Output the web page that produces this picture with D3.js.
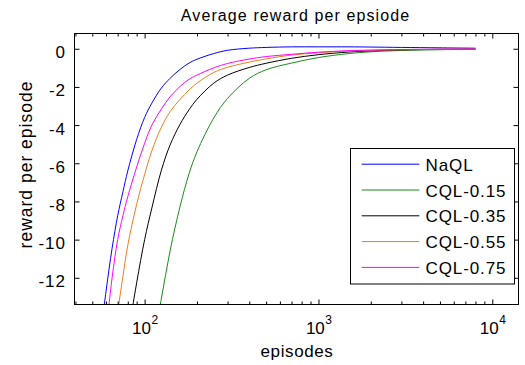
<!DOCTYPE html>
<html>
<head>
<meta charset="utf-8">
<script src="https://cdn.jsdelivr.net/npm/d3@7"></script>
<style>
  body { margin: 0; background: #fff; }
  text { font-family: "Liberation Sans", Arial, Helvetica, sans-serif; fill: #000; }
</style>
</head>
<body>
<svg id="chart" width="525" height="365"></svg>
<script>
// Episodes at which the averaged reward was sampled
const episodes = [55, 60, 65, 70, 75, 80, 90, 100, 110, 125, 140, 160, 180, 200,
                  250, 300, 400, 500, 700, 1000, 1500, 2000, 3000, 5000, 8000];

// Average reward per episode for each learner (null = not on the plotted range)
const naql   = [-15.4, -12.7, -10.45, -8.75, -7.5, -6.4, -4.75, -3.6, -2.85, -2.05, -1.55, -1.08, -0.75, -0.55,
                -0.25, -0.08, 0.03, 0.07, 0.1, 0.1, 0.1, 0.09, 0.07, 0.05, 0.03];
const cql015 = [null, null, null, null, null, null, null, null, -15.8, -13.06, -10.6, -8.25, -6.55, -5.4,
                -3.62, -2.6, -1.55, -1.1, -0.75, -0.46, -0.25, -0.16, -0.09, -0.05, -0.02];
const cql035 = [null, null, null, null, null, -15.07, -12.26, -10.0, -8.35, -6.35, -5.05, -3.95, -3.2, -2.65,
                -1.8, -1.38, -0.98, -0.76, -0.5, -0.31, -0.17, -0.11, -0.06, -0.03, -0.02];
const cql055 = [null, null, -15.8, -13.78, -11.93, -10.3, -8.15, -6.58, -5.35, -4.1, -3.3, -2.65, -2.16, -1.8,
                -1.24, -0.97, -0.7, -0.53, -0.33, -0.21, -0.12, -0.08, -0.05, -0.03, -0.02];
const cql075 = [null, -14.85, -12.0, -10.0, -8.75, -7.75, -6.2, -4.95, -4.0, -3.15, -2.52, -1.97, -1.6, -1.38,
                -1.0, -0.77, -0.54, -0.41, -0.29, -0.18, -0.1, -0.07, -0.04, -0.02, -0.01];

const seriesNames  = ["NaQL", "CQL-0.15", "CQL-0.35", "CQL-0.55", "CQL-0.75"];
const seriesValues = [naql, cql015, cql035, cql055, cql075];
const seriesColors = ["#0000ff", "#1a8c1a", "#000000", "#ee7d1b", "#ff00ff"];

const xMajorTicks = [100, 1000, 10000];
const yTicks = [-12, -10, -8, -6, -4, -2, 0];

const titleText = "Average reward per epsiode";
const xLabel = "episodes";
const yLabel = "reward per episode";

// ---- layout ----
const plotLeft = 74.5, plotRight = 518.5, plotTop = 33.5, plotBottom = 304.5;
const svg = d3.select("#chart");

const x = d3.scaleLog().domain([39.5, 14150]).range([plotLeft, plotRight]);
const y = d3.scaleLinear().domain([-13.4, 0.8]).range([plotBottom, plotTop]);

svg.append("rect").attr("width", 525).attr("height", 365).attr("fill", "#fff");

// clip region for the curves
svg.append("clipPath").attr("id", "plotClip")
  .append("rect").attr("x", plotLeft).attr("y", plotTop)
  .attr("width", plotRight - plotLeft).attr("height", plotBottom - plotTop);

// ---- curves ----
const line = d3.line()
  .defined(d => d[1] != null)
  .x(d => x(d[0]))
  .y(d => y(d[1]))
  .curve(d3.curveCatmullRom.alpha(0.5));

const plot = svg.append("g").attr("clip-path", "url(#plotClip)");
seriesValues.forEach((vals, i) => {
  plot.append("path")
    .datum(episodes.map((e, k) => [e, vals[k]]))
    .attr("fill", "none")
    .attr("stroke", seriesColors[i])
    .attr("stroke-width", 1)
    .attr("d", line);
});

// ---- axes (inward ticks on all four sides) ----
const minorX = x.ticks().filter(v => !xMajorTicks.includes(v));
const stripDomain = g => g.select(".domain").remove();

function xAxes(axisFn, ypos, withLabels) {
  svg.append("g").attr("transform", `translate(0,${ypos})`)
    .call(axisFn(x).tickValues(minorX).tickSize(-3).tickFormat(""))
    .call(stripDomain);
  const g = svg.append("g").attr("transform", `translate(0,${ypos})`)
    .call(axisFn(x).tickValues(xMajorTicks).tickSize(-5).tickFormat(""))
    .call(stripDomain);
  if (withLabels) {
    g.selectAll(".tick text").each(function (d) {
      const t = d3.select(this);
      t.text(null).attr("y", 29.5).attr("dy", null)
        .attr("font-size", 17).attr("text-anchor", "middle");
      t.append("tspan").text("10");
      t.append("tspan").attr("dy", -10.5).attr("dx", 0.5).attr("font-size", 12)
        .text(Math.round(Math.log10(d)));
    });
  }
}
xAxes(d3.axisBottom, plotBottom, true);
xAxes(d3.axisTop, plotTop, false);

svg.append("g").attr("transform", `translate(${plotLeft},0)`)
  .call(d3.axisLeft(y).tickValues(yTicks).tickSize(-5).tickPadding(8.5).tickFormat(d => String(d)))
  .call(stripDomain)
  .call(g => g.selectAll(".tick text").attr("font-size", 17).attr("dy", 9).attr("letter-spacing", 1));

svg.append("g").attr("transform", `translate(${plotRight},0)`)
  .call(d3.axisRight(y).tickValues(yTicks).tickSize(-5).tickFormat(""))
  .call(stripDomain);

svg.selectAll(".tick line").attr("stroke", "#000");

// axes box
svg.append("rect")
  .attr("x", plotLeft).attr("y", plotTop)
  .attr("width", plotRight - plotLeft).attr("height", plotBottom - plotTop)
  .attr("fill", "none").attr("stroke", "#000").attr("stroke-width", 1);

// ---- titles ----
svg.append("text").attr("x", 295.5).attr("y", 20.7)
  .attr("text-anchor", "middle").attr("font-size", 16).attr("letter-spacing", 1.1)
  .text(titleText);

svg.append("text").attr("x", 297).attr("y", 357)
  .attr("text-anchor", "middle").attr("font-size", 17).attr("letter-spacing", 0.6)
  .text(xLabel);

svg.append("text")
  .attr("transform", "translate(31.5,164.5) rotate(-90)")
  .attr("text-anchor", "middle").attr("font-size", 17.5).attr("letter-spacing", 1)
  .text(yLabel);

// ---- legend ----
const lgX = 350.5, lgY = 148.5, lgW = 164, lgH = 135.5, rowH = 25.8;
const legend = svg.append("g");
legend.append("rect")
  .attr("x", lgX).attr("y", lgY).attr("width", lgW).attr("height", lgH)
  .attr("fill", "#fff").attr("stroke", "#000").attr("stroke-width", 1);

seriesNames.forEach((name, i) => {
  const ry = lgY + 15.7 + i * rowH;
  legend.append("line")
    .attr("x1", lgX + 11.2).attr("x2", lgX + 68.8)
    .attr("y1", ry).attr("y2", ry)
    .attr("stroke", seriesColors[i]).attr("stroke-width", 1);
  legend.append("text")
    .attr("x", lgX + 75).attr("y", ry + 6.5)
    .attr("font-size", 17).attr("letter-spacing", 0.9)
    .text(name);
});
</script>
</body>
</html>
